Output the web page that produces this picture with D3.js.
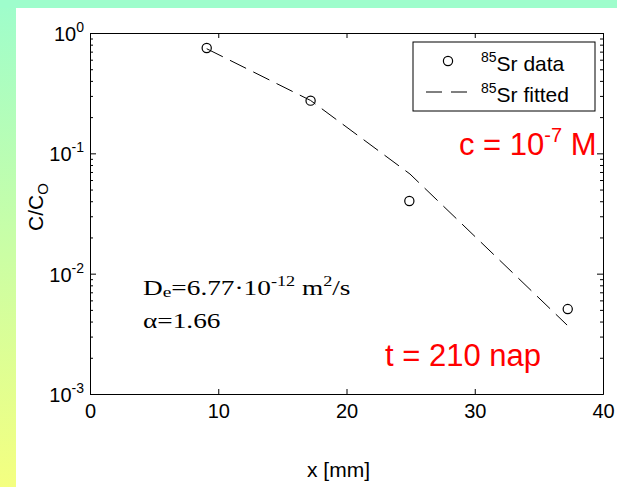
<!DOCTYPE html>
<html>
<head>
<meta charset="utf-8">
<script src="https://cdn.jsdelivr.net/npm/d3@7"></script>
<style>
  body { margin: 0; }
  svg { display: block; }
</style>
</head>
<body>
<div id="chart"></div>
<script>
// measured points (85Sr data)
const xData = [9.1, 17.2, 24.9, 37.25];
const cData = [0.75, 0.274, 0.0402, 0.00508];

// fitted curve
const xFit = [9.1, 17.2, 24.95, 37.2];
const cFit = [0.74, 0.275, 0.0673, 0.00374];

const xTicks = [0, 10, 20, 30, 40];
const yExponents = [0, -1, -2, -3];

const width = 617, height = 487;
const plotLeft = 90, plotRight = 603, plotTop = 33, plotBottom = 394;

const svg = d3.select("#chart").append("svg")
    .attr("width", width)
    .attr("height", height);

// background frame
const defs = svg.append("defs");
const grad = defs.append("linearGradient")
    .attr("id", "sideGrad")
    .attr("x1", 0).attr("y1", 0).attr("x2", 0).attr("y2", 1);
grad.append("stop").attr("offset", "0%").attr("stop-color", "#9efdcc");
grad.append("stop").attr("offset", "100%").attr("stop-color", "#f4ff80");

svg.append("rect").attr("x", 0).attr("y", 0).attr("width", width).attr("height", height).attr("fill", "url(#sideGrad)");
svg.append("rect").attr("x", 0).attr("y", 0).attr("width", width).attr("height", 8).attr("fill", "#9efdcc");
svg.append("rect").attr("x", 16).attr("y", 8).attr("width", width - 16).attr("height", height - 8).attr("fill", "#ffffff");

const x = d3.scaleLinear().domain([0, 40]).range([plotLeft, plotRight]);
const y = d3.scaleLog().domain([1e-3, 1]).range([plotBottom, plotTop]);

// minor log ticks
const minor = [];
[-3, -2, -1].forEach(e => {
    for (let k = 2; k <= 9; k++) minor.push(k * Math.pow(10, e));
});
const majors = yExponents.map(e => Math.pow(10, e));

const axisStyle = g => {
    g.select(".domain").attr("stroke", "#000").attr("stroke-width", 1);
    g.selectAll(".tick line").attr("stroke", "#000").attr("stroke-width", 1);
};

// bottom axis
const gx = svg.append("g")
    .attr("transform", `translate(0,${plotBottom})`)
    .call(d3.axisBottom(x).tickValues(xTicks).tickSize(-5).tickSizeOuter(0).tickPadding(24).tickFormat(d3.format("d")))
    .call(axisStyle);
gx.selectAll(".tick text")
    .attr("font-family", "Liberation Sans, Arial, sans-serif")
    .attr("font-size", 20)
    .attr("fill", "#000")
    .attr("dy", 0);

// top axis
svg.append("g")
    .attr("transform", `translate(0,${plotTop})`)
    .call(d3.axisTop(x).tickValues(xTicks).tickSize(-5).tickSizeOuter(0).tickFormat(""))
    .call(axisStyle);

// left axis
svg.append("g")
    .attr("transform", `translate(${plotLeft},0)`)
    .call(d3.axisLeft(y).tickValues(majors).tickSize(-6).tickSizeOuter(0).tickFormat(""))
    .call(axisStyle);
svg.append("g")
    .attr("transform", `translate(${plotLeft},0)`)
    .call(d3.axisLeft(y).tickValues(minor).tickSize(-3).tickSizeOuter(0).tickFormat(""))
    .call(axisStyle);

// right axis
svg.append("g")
    .attr("transform", `translate(${plotRight},0)`)
    .call(d3.axisRight(y).tickValues(majors).tickSize(-6).tickSizeOuter(0).tickFormat(""))
    .call(axisStyle);
svg.append("g")
    .attr("transform", `translate(${plotRight},0)`)
    .call(d3.axisRight(y).tickValues(minor).tickSize(-3).tickSizeOuter(0).tickFormat(""))
    .call(axisStyle);

// log tick labels 10^n
yExponents.forEach(e => {
    const t = svg.append("text")
        .attr("x", 84)
        .attr("y", y(Math.pow(10, e)) + 8)
        .attr("text-anchor", "end")
        .attr("font-family", "Liberation Sans, Arial, sans-serif")
        .attr("font-size", 20)
        .attr("fill", "#000");
    t.append("tspan").text("10");
    t.append("tspan").attr("dy", -9).attr("font-size", 14).text(String(e));
});

// axis labels
svg.append("text")
    .attr("x", (plotLeft + plotRight) / 2 - 8)
    .attr("y", 477)
    .attr("text-anchor", "middle")
    .attr("font-family", "Liberation Sans, Arial, sans-serif")
    .attr("font-size", 21)
    .text("x [mm]");

const yl = svg.append("text")
    .attr("transform", "translate(43,207) rotate(-90)")
    .attr("text-anchor", "middle")
    .attr("font-family", "Liberation Sans, Arial, sans-serif")
    .attr("font-size", 21);
yl.append("tspan").text("C/C");
yl.append("tspan").attr("dy", 5).attr("font-size", 15).text("O");

// fitted line
const line = d3.line()
    .x((d, i) => x(xFit[i]))
    .y(d => y(d));

svg.append("path")
    .datum(cFit)
    .attr("d", line)
    .attr("fill", "none")
    .attr("stroke", "#000")
    .attr("stroke-width", 1)
    .attr("stroke-dasharray", "18,8");

// data circles
svg.selectAll(".dot")
    .data(cData)
    .enter().append("circle")
    .attr("class", "dot")
    .attr("cx", (d, i) => x(xData[i]))
    .attr("cy", d => y(d))
    .attr("r", 4.6)
    .attr("fill", "none")
    .attr("stroke", "#000")
    .attr("stroke-width", 1.2);

// legend
svg.append("rect")
    .attr("x", 413).attr("y", 42)
    .attr("width", 182).attr("height", 69)
    .attr("fill", "#fff").attr("stroke", "#000").attr("stroke-width", 1);
svg.append("circle")
    .attr("cx", 448).attr("cy", 61).attr("r", 4.6)
    .attr("fill", "none").attr("stroke", "#000").attr("stroke-width", 1.2);
svg.append("line")
    .attr("x1", 426).attr("x2", 467).attr("y1", 92).attr("y2", 92)
    .attr("stroke", "#000").attr("stroke-width", 1).attr("stroke-dasharray", "16,9");
[["Sr data", 70.5], ["Sr fitted", 101.5]].forEach(([label, by]) => {
    const t = svg.append("text")
        .attr("x", 481).attr("y", by)
        .attr("font-family", "Liberation Sans, Arial, sans-serif")
        .attr("font-size", 21)
        .attr("fill", "#000");
    t.append("tspan").attr("dy", -9).attr("font-size", 14).text("85");
    t.append("tspan").attr("dy", 9).text(label);
});

// red annotations
const red = "#ff0000";
const cText = svg.append("text")
    .attr("x", 459).attr("y", 155)
    .attr("font-family", "Liberation Sans, Arial, sans-serif")
    .attr("font-size", 31)
    .attr("fill", red);
cText.append("tspan").text("c = 10");
cText.append("tspan").attr("dy", -13).attr("font-size", 20).text("-7");
cText.append("tspan").attr("dy", 13).text(" M");

svg.append("text")
    .attr("x", 385).attr("y", 366)
    .attr("font-family", "Liberation Sans, Arial, sans-serif")
    .attr("font-size", 31)
    .attr("fill", red)
    .text("t = 210 nap");

// parameter text (serif)
const serif = "Liberation Serif, Times New Roman, serif";
const pg = svg.append("g").attr("transform", "translate(143,295) scale(1.3,1)");
const de = pg.append("text")
    .attr("x", 0).attr("y", 0)
    .attr("font-family", serif)
    .attr("font-size", 21)
    .attr("fill", "#000");
de.append("tspan").text("D");
de.append("tspan").attr("dy", 2).attr("font-size", 15).text("e");
de.append("tspan").attr("dy", -2).text("=6.77·10");
de.append("tspan").attr("dy", -9).attr("font-size", 14).text("-12");
de.append("tspan").attr("dy", 9).text(" m");
de.append("tspan").attr("dy", -9).attr("font-size", 14).text("2");
de.append("tspan").attr("dy", 9).text("/s");

pg.append("text")
    .attr("x", 0).attr("y", 33)
    .attr("font-family", serif)
    .attr("font-size", 21)
    .attr("fill", "#000")
    .text("α=1.66");
</script>
</body>
</html>
